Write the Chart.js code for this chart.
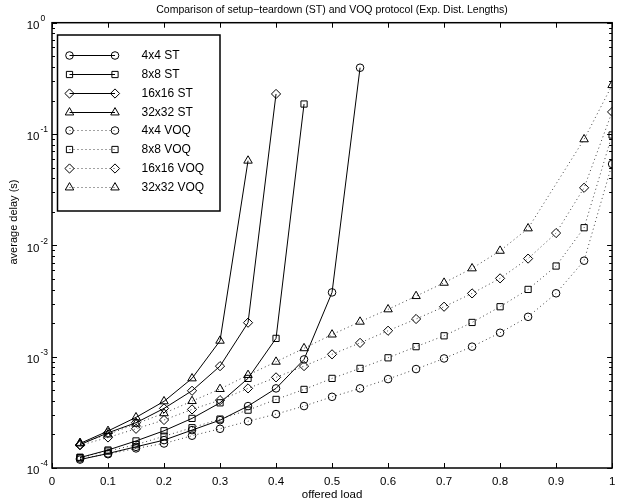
<!DOCTYPE html>
<html>
<head>
<meta charset="utf-8">
<script src="https://cdn.jsdelivr.net/npm/chart.js@4/dist/chart.umd.min.js"></script>
<style>
  body { margin: 0; background: #fff; }
  canvas { display: block; }
</style>
</head>
<body>
<canvas id="myChart" width="618" height="504"></canvas>
<script>
// offered load values
var loadST4 = [0.05, 0.1, 0.15, 0.2, 0.25, 0.3, 0.35, 0.4, 0.45, 0.5, 0.55];
var loadST8 = [0.05, 0.1, 0.15, 0.2, 0.25, 0.3, 0.35, 0.4, 0.45];
var loadST16 = [0.05, 0.1, 0.15, 0.2, 0.25, 0.3, 0.35, 0.4];
var loadST32 = [0.05, 0.1, 0.15, 0.2, 0.25, 0.3, 0.35];
var loadVOQ = [0.05, 0.1, 0.15, 0.2, 0.25, 0.3, 0.35, 0.4, 0.45, 0.5,
               0.55, 0.6, 0.65, 0.7, 0.75, 0.8, 0.85, 0.9, 0.95, 1.0];

// average delay (s)
var delayST4 = [1.19e-4, 1.35e-4, 1.55e-4, 1.78e-4, 2.19e-4, 2.69e-4, 3.60e-4, 5.19e-4, 9.45e-4, 3.78e-3, 0.394];
var delayST8 = [1.24e-4, 1.45e-4, 1.75e-4, 2.16e-4, 2.79e-4, 3.85e-4, 6.38e-4, 1.46e-3, 0.186];
var delayST16 = [1.62e-4, 2.07e-4, 2.55e-4, 3.43e-4, 4.94e-4, 8.22e-4, 2.02e-3, 0.229];
var delayST32 = [1.66e-4, 2.15e-4, 2.85e-4, 3.97e-4, 6.38e-4, 1.39e-3, 0.0576];
var delayVOQ4 = [1.22e-4, 1.33e-4, 1.50e-4, 1.66e-4, 1.95e-4, 2.25e-4, 2.63e-4, 3.05e-4, 3.60e-4, 4.36e-4,
                 5.19e-4, 6.29e-4, 7.74e-4, 9.64e-4, 1.23e-3, 1.64e-3, 2.28e-3, 3.71e-3, 7.28e-3, 0.0538];
var delayVOQ8 = [1.25e-4, 1.42e-4, 1.62e-4, 1.93e-4, 2.30e-4, 2.75e-4, 3.31e-4, 4.13e-4, 5.08e-4, 6.38e-4,
                 7.85e-4, 9.77e-4, 1.23e-3, 1.54e-3, 2.03e-3, 2.81e-3, 4.02e-3, 6.52e-3, 1.44e-2, 0.098];
var delayVOQ16 = [1.60e-4, 1.88e-4, 2.25e-4, 2.70e-4, 3.36e-4, 4.07e-4, 5.19e-4, 6.52e-4, 8.23e-4, 1.05e-3,
                  1.33e-3, 1.71e-3, 2.18e-3, 2.81e-3, 3.70e-3, 5.05e-3, 7.60e-3, 1.29e-2, 3.29e-2, 0.158];
var delayVOQ32 = [1.68e-4, 2.00e-4, 2.50e-4, 3.10e-4, 3.99e-4, 5.12e-4, 6.84e-4, 9.00e-4, 1.19e-3, 1.58e-3,
                  2.06e-3, 2.66e-3, 3.50e-3, 4.61e-3, 6.21e-3, 8.93e-3, 1.42e-2, null, 0.0896, 0.275];

var seriesLabels = ['4x4 ST', '8x8 ST', '16x16 ST', '32x32 ST', '4x4 VOQ', '8x8 VOQ', '16x16 VOQ', '32x32 VOQ'];
var xTicks = [0, 0.1, 0.2, 0.3, 0.4, 0.5, 0.6, 0.7, 0.8, 0.9, 1];
var yDecades = [0, -1, -2, -3, -4];

var FONT = '"Liberation Sans", Arial, Helvetica, sans-serif';

function points(xs, ys) {
  var out = [];
  for (var i = 0; i < xs.length; i++) {
    out.push({ x: xs[i], y: ys[i] });
  }
  return out;
}

var markers = [
  { style: 'circle', radius: 3.8 },
  { style: 'rect', radius: 4.4 },
  { style: 'rectRot', radius: 4.6 },
  { style: 'triangle', radius: 4.9 }
];

function makeSet(i, xs, ys, dotted) {
  var m = markers[i % 4];
  return {
    label: seriesLabels[i],
    data: points(xs, ys),
    borderColor: dotted ? '#444' : '#000',
    borderWidth: 1,
    borderDash: dotted ? [1, 3] : [],
    spanGaps: true,
    tension: 0,
    pointStyle: m.style,
    pointRadius: m.radius,
    pointBorderColor: '#000',
    pointBackgroundColor: 'rgba(0,0,0,0)',
    pointBorderWidth: 1,
    fill: false
  };
}

// draw one marker like Chart.js does
function drawMarker(ctx, style, r, x, y) {
  ctx.beginPath();
  if (style === 'circle') {
    ctx.arc(x, y, r, 0, Math.PI * 2);
  } else if (style === 'rect') {
    var s = r * Math.SQRT1_2;
    ctx.rect(x - s, y - s, 2 * s, 2 * s);
  } else if (style === 'rectRot') {
    ctx.moveTo(x, y - r);
    ctx.lineTo(x + r, y);
    ctx.lineTo(x, y + r);
    ctx.lineTo(x - r, y);
    ctx.closePath();
  } else if (style === 'triangle') {
    var a = 0;
    ctx.moveTo(x + Math.sin(a) * r, y - Math.cos(a) * r);
    a += Math.PI * 2 / 3;
    ctx.lineTo(x + Math.sin(a) * r, y - Math.cos(a) * r);
    a += Math.PI * 2 / 3;
    ctx.lineTo(x + Math.sin(a) * r, y - Math.cos(a) * r);
    ctx.closePath();
  }
  ctx.stroke();
}

var matlabAxes = {
  id: 'matlabAxes',
  afterDraw: function(chart) {
    var ctx = chart.ctx;
    var area = chart.chartArea;
    var xs = chart.scales.x;
    var ys = chart.scales.y;
    var i, p, d;

    ctx.save();
    ctx.strokeStyle = '#000';
    ctx.fillStyle = '#000';
    ctx.lineWidth = 1;

    // x ticks, bottom and top, pointing in
    ctx.beginPath();
    for (i = 0; i < xTicks.length; i++) {
      p = Math.round(xs.getPixelForValue(xTicks[i])) + 0.5;
      ctx.moveTo(p, area.bottom);
      ctx.lineTo(p, area.bottom - 5);
      ctx.moveTo(p, area.top);
      ctx.lineTo(p, area.top + 5);
    }
    // y ticks, major and minor, left and right
    for (d = -4; d <= 0; d++) {
      for (var k = 1; k <= 9; k++) {
        if (d === 0 && k > 1) break;
        p = Math.round(ys.getPixelForValue(k * Math.pow(10, d))) + 0.5;
        var len = k === 1 ? 5 : 3;
        ctx.moveTo(area.left, p);
        ctx.lineTo(area.left + len, p);
        ctx.moveTo(area.right, p);
        ctx.lineTo(area.right - len, p);
      }
    }
    ctx.stroke();

    // frame
    ctx.lineWidth = 1.5;
    ctx.strokeRect(area.left, area.top, area.right - area.left, area.bottom - area.top);

    // y tick labels 10^n
    for (i = 0; i < yDecades.length; i++) {
      p = ys.getPixelForValue(Math.pow(10, yDecades[i]));
      ctx.font = '11.5px ' + FONT;
      ctx.textAlign = 'right';
      ctx.textBaseline = 'middle';
      ctx.fillText('10', 39.5, p + 3);
      ctx.font = '8.5px ' + FONT;
      ctx.textAlign = 'left';
      ctx.fillText(yDecades[i] === 0 ? '0' : '-' + (-yDecades[i]), 40.5, p - 4);
    }

    // y axis title
    ctx.save();
    ctx.translate(14, 222);
    ctx.rotate(-Math.PI / 2);
    ctx.font = '11px ' + FONT;
    ctx.textAlign = 'center';
    ctx.textBaseline = 'middle';
    ctx.fillText('average delay (s)', 0, 0);
    ctx.restore();

    // legend box
    var bx = 57.5, by = 35, bw = 162.5, bh = 176;
    ctx.fillStyle = '#fff';
    ctx.fillRect(bx, by, bw, bh);
    ctx.lineWidth = 1.5;
    ctx.strokeStyle = '#000';
    ctx.strokeRect(bx, by, bw, bh);

    ctx.font = '12px ' + FONT;
    ctx.textAlign = 'left';
    ctx.textBaseline = 'middle';
    for (i = 0; i < chart.data.datasets.length; i++) {
      var ds = chart.data.datasets[i];
      var ry = Math.round(55 + i * 18.85) + 0.5;
      ctx.lineWidth = 1;
      ctx.strokeStyle = ds.borderColor;
      ctx.setLineDash(ds.borderDash);
      ctx.beginPath();
      ctx.moveTo(69.5, ry);
      ctx.lineTo(115, ry);
      ctx.stroke();
      ctx.setLineDash([]);
      ctx.strokeStyle = '#000';
      drawMarker(ctx, ds.pointStyle, ds.pointRadius, 69.5, ry);
      drawMarker(ctx, ds.pointStyle, ds.pointRadius, 115, ry);
      ctx.fillStyle = '#000';
      ctx.fillText(ds.label, 141.5, ry + 0.5);
    }

    ctx.restore();
  }
};

function init() {
  var ctx = document.getElementById('myChart').getContext('2d');
  var chart = new Chart(ctx, {
    type: 'line',
    data: {
      datasets: [
        makeSet(0, loadST4, delayST4, false),
        makeSet(1, loadST8, delayST8, false),
        makeSet(2, loadST16, delayST16, false),
        makeSet(3, loadST32, delayST32, false),
        makeSet(4, loadVOQ, delayVOQ4, true),
        makeSet(5, loadVOQ, delayVOQ8, true),
        makeSet(6, loadVOQ, delayVOQ16, true),
        makeSet(7, loadVOQ, delayVOQ32, true)
      ]
    },
    options: {
      responsive: false,
      animation: false,
      devicePixelRatio: 1,
      layout: { padding: { left: 0, right: 1, top: 0, bottom: 0 } },
      plugins: {
        legend: { display: false },
        tooltip: { enabled: false },
        title: {
          display: true,
          fullSize: false,
          text: 'Comparison of setup\u2212teardown (ST) and VOQ protocol (Exp. Dist. Lengths)',
          color: '#000',
          font: { family: FONT, size: 10.5, weight: 'normal' },
          padding: { top: 3.5, bottom: 6.6 }
        }
      },
      scales: {
        x: {
          type: 'linear',
          min: 0,
          max: 1,
          grid: { display: false, drawTicks: false },
          border: { display: false },
          ticks: {
            stepSize: 0.1,
            color: '#000',
            padding: 6.5,
            maxRotation: 0,
            font: { family: FONT, size: 11.5 },
            callback: function(v) { return Math.round(v * 10) / 10 + ''; }
          },
          title: {
            display: true,
            text: 'offered load',
            color: '#000',
            font: { family: FONT, size: 11.5 },
            padding: { top: 0, bottom: 2.5 }
          },
          afterFit: function(scale) {
            scale.height = 36;
            scale.paddingLeft = 0;
            scale.paddingRight = 0;
          }
        },
        y: {
          type: 'logarithmic',
          min: 1e-4,
          max: 1,
          grid: { display: false, drawTicks: false },
          border: { display: false },
          ticks: { display: false },
          afterFit: function(scale) {
            scale.width = 52;
          }
        }
      }
    },
    plugins: [matlabAxes]
  });
}

init();
</script>
</body>
</html>
